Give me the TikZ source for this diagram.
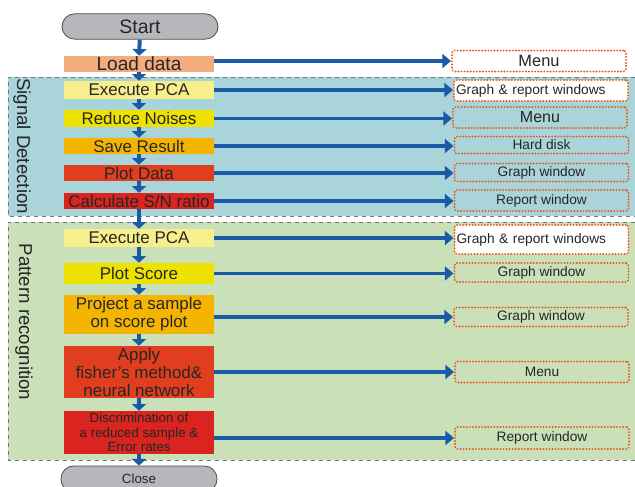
\documentclass[tikz,border=0pt]{standalone}
\usepackage{fontspec}
\setmainfont{Liberation Sans}
\usepackage{xcolor}
\usetikzlibrary{arrows.meta}

\definecolor{flowblue}{HTML}{1B5AA6}
\definecolor{termgray}{HTML}{B5B7BB}
\definecolor{peach}{HTML}{F2AC7E}
\definecolor{paleyellow}{HTML}{F7EF8C}
\definecolor{brightyellow}{HTML}{EEE200}
\definecolor{amber}{HTML}{F4B400}
\definecolor{redorange}{HTML}{E03E1E}
\definecolor{deepred}{HTML}{D9241F}
\definecolor{signalbg}{HTML}{A8D4DA}
\definecolor{patternbg}{HTML}{C9E0B9}
\definecolor{outred}{HTML}{E85A1E}

\tikzset{
  terminal/.style={draw=black!70, line width=0.6pt, fill=termgray, rounded corners=9.5pt,
    minimum width=117pt, inner sep=0pt, text=black!85},
  procbox/.style={minimum width=112.5pt, inner sep=0pt, align=center, text=black!85,
    font=\fontsize{12.7}{13.5}\selectfont},
  outbox/.style={draw=outred, line width=1.5pt, dash pattern=on 0.1pt off 2.2pt, line cap=round,
    rounded corners=2pt, minimum width=130.5pt, inner sep=0pt, text=black!85,
    font=\fontsize{10.3}{12}\selectfont},
  leftout/.style={text width=127.5pt, align=left, inner xsep=1.5pt},
  regionline/.style={draw=black!55, dashed, line width=0.6pt},
  harrow/.style={draw=flowblue, line width=2.4pt, -{Triangle[width=10.5pt,length=6.5pt]}},
  varrow/.style={draw=flowblue, line width=3pt, -{Triangle[width=10.5pt,length=5pt]}},
  sidelabel/.style={rotate=-90, text=black!85, font=\fontsize{14}{16}\selectfont}
}

\begin{document}
\begin{tikzpicture}[x=0.75pt,y=0.75pt,yscale=-1,xscale=1]
\useasboundingbox (0,0) rectangle (635,486);
\clip (0,0) rectangle (635,486);

% regions
\fill[signalbg] (8,77) rectangle (635,216);
\draw[regionline] (635,77) -- (8,77) -- (8,216) -- (635,216);
\fill[patternbg] (8,222) rectangle (635,460);
\draw[regionline] (635,222) -- (8,222) -- (8,460) -- (635,460);

\node[sidelabel] (sig) at (22,146) {Signal Detection};
\node[sidelabel] (pat) at (24,322) {Pattern recognition};

% left column
\node[terminal, minimum height=19pt, font=\fontsize{14.6}{16}\selectfont] (start) at (140,26.5) {Start};
\node[procbox, fill=peach, minimum height=12pt, font=\fontsize{14.3}{16}\selectfont] (load) at (139,64) {Load data};
\node[procbox, fill=paleyellow, minimum height=13.5pt] (pca) at (139,90) {Execute PCA};
\node[procbox, fill=brightyellow, minimum height=12.75pt] (noise) at (139,118.5) {Reduce Noises};
\node[procbox, fill=amber, minimum height=12pt] (save) at (139,146) {Save Result};
\node[procbox, fill=redorange, minimum height=12pt] (plotdata) at (139,173) {Plot Data};
\node[procbox, fill=deepred, minimum height=12pt] (snratio) at (139,201) {Calculate S/N ratio};

\node[procbox, fill=paleyellow, minimum height=13.5pt] (pcatwo) at (139,238) {Execute PCA};
\node[procbox, fill=brightyellow, minimum height=15.75pt] (score) at (139,273.5) {Plot Score};
\node[procbox, fill=amber, minimum height=29.25pt] (project) at (139,314.5) {Project a sample\\on score plot};
\node[procbox, fill=redorange, minimum height=39pt] (fisher) at (139,372) {Apply\\fisher's method\&\\neural network};
\node[procbox, fill=deepred, minimum height=32.25pt, font=\fontsize{10}{10.8}\selectfont] (discrim) at (139,432.5) {Discrimination of\\a reduced sample \&\\Error rates};
\node[terminal, minimum height=19.5pt, font=\fontsize{10}{12}\selectfont] (close) at (139,479) {Close};

% right column
\node[outbox, fill=white, minimum height=15.75pt, font=\fontsize{12.3}{14}\selectfont] (rmenu) at (539,61) {Menu};
\node[outbox, leftout, fill=white, minimum height=15.75pt] (rgraphrep) at (541,90.5) {Graph \& report windows};
\node[outbox, minimum height=15.75pt, font=\fontsize{12}{14}\selectfont] (rmenutwo) at (540,117.5) {Menu};
\node[outbox, minimum height=12.75pt] (rdisk) at (541.5,145) {Hard disk};
\node[outbox, minimum height=13.5pt] (rgraph) at (541.5,172.5) {Graph window};
\node[outbox, minimum height=15.75pt] (rreport) at (541.5,200.5) {Report window};
\node[outbox, leftout, fill=white, minimum height=21.75pt] (rgraphreptwo) at (541.5,239.5) {Graph \& report windows};
\node[outbox, minimum height=14.25pt] (rscore) at (541.5,272.5) {Graph window};
\node[outbox, minimum height=14.25pt] (rproject) at (541,317) {Graph window};
\node[outbox, minimum height=15.75pt] (rmenuthree) at (542,372) {Menu};
\node[outbox, minimum height=16.5pt] (rreporttwo) at (542,438) {Report window};

% flow downwards
\draw[varrow] (start) -- (load);
\draw[varrow] (load) -- (pca);
\draw[varrow] (pca) -- (noise);
\draw[varrow] (noise) -- (save);
\draw[varrow] (save) -- (plotdata);
\draw[varrow] (plotdata) -- (snratio);
\draw[varrow] (snratio) -- (pcatwo);
\draw[varrow] (pcatwo) -- (score);
\draw[varrow] (score) -- (project);
\draw[varrow] (project) -- (fisher);
\draw[varrow] (fisher) -- (discrim);
\draw[varrow] (discrim) -- (close);

% outputs
\draw[harrow] (load.east |- rmenu.west) -- (rmenu.west);
\draw[harrow] (pca.east) -- (pca.east -| rgraphrep.west);
\draw[harrow] (noise.east) -- (noise.east -| rmenutwo.west);
\draw[harrow] (save.east) -- (save.east -| rdisk.west);
\draw[harrow] (plotdata.east) -- (plotdata.east -| rgraph.west);
\draw[harrow] (snratio.east) -- (snratio.east -| rreport.west);
\draw[harrow] (pcatwo.east) -- (pcatwo.east -| rgraphreptwo.west);
\draw[harrow] (score.east) -- (score.east -| rscore.west);
\draw[harrow] (project.east |- rproject.west) -- (rproject.west);
\draw[harrow] (fisher.east |- rmenuthree.west) -- (rmenuthree.west);
\draw[harrow] (discrim.east |- rreporttwo.west) -- (rreporttwo.west);

\end{tikzpicture}
\end{document}
